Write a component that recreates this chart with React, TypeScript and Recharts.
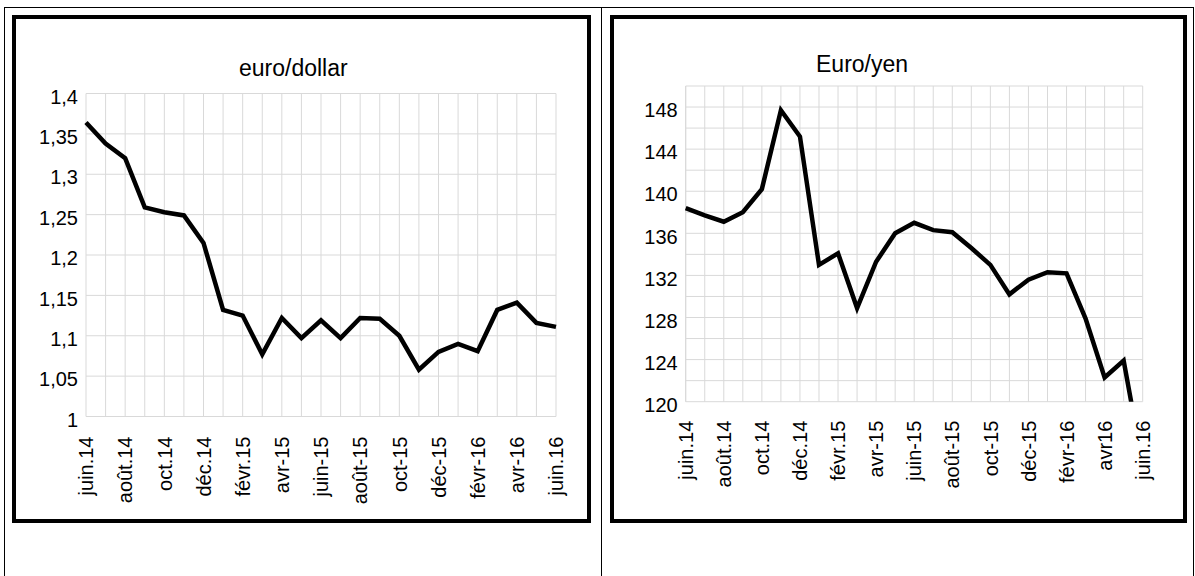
import React from 'react';
import { LineChart, Line, XAxis, YAxis, CartesianGrid } from 'recharts';

const dollarLabels = ['juin.14', 'août.14', 'oct.14', 'déc.14', 'févr.15', 'avr-15', 'juin-15', 'août-15', 'oct-15', 'déc-15', 'févr-16', 'avr-16', 'juin.16'];
const yenLabels = ['juin.14', 'août.14', 'oct.14', 'déc.14', 'févr.15', 'avr-15', 'juin-15', 'août-15', 'oct-15', 'déc-15', 'févr-16', 'avr16', 'juin.16'];

// monthly values, juin 2014 -> juin 2016
const dollarValues = [1.364, 1.338, 1.32, 1.259, 1.253, 1.249, 1.215, 1.132, 1.125, 1.077, 1.122, 1.097, 1.119, 1.097, 1.122, 1.121, 1.1, 1.058, 1.08, 1.09, 1.081, 1.132, 1.141, 1.116, 1.111];
const yenValues = [138.4, 137.7, 137.1, 138.0, 140.2, 147.7, 145.2, 133.0, 134.1, 128.9, 133.3, 136.0, 137.0, 136.3, 136.1, 134.6, 133.0, 130.2, 131.6, 132.3, 132.2, 127.9, 122.3, 123.9, 114.0];

const dollarTicks = [1, 1.05, 1.1, 1.15, 1.2, 1.25, 1.3, 1.35, 1.4];
const yenTicks = [120, 122, 124, 126, 128, 130, 132, 134, 136, 138, 140, 142, 144, 146, 148, 150];

const FONT = '"Liberation Sans", Arial, sans-serif';

const buildRows = (values: number[]) => values.map((v, i) => ({ idx: i, value: v }));

const MonthTick = ({ x, y, payload, labels, gap }: any) => {
  const i = Number(payload.value);
  if (i % 2 !== 0) return <g />;
  const ty = y + gap;
  return (
    <text
      x={x}
      y={ty}
      transform={`rotate(-90, ${x}, ${ty})`}
      textAnchor="end"
      dy="0.36em"
      fontSize={20}
      fontFamily={FONT}
      fill="#000"
    >
      {labels[i / 2]}
    </text>
  );
};

const ValueTick = ({ x, y, payload, format }: any) => {
  const text = format(payload.value);
  if (!text) return <g />;
  return (
    <text x={x} y={y + 3} textAnchor="end" dy="0.36em" fontSize={20} fontFamily={FONT} fill="#000">
      {text}
    </text>
  );
};

const fmtDollar = (v: number) => String(v).replace('.', ',');
const fmtYen = (v: number) => ((v - 120) % 4 === 0 && v < 150 ? String(v) : '');

const Box = ({ left, top, width, height }: any) => (
  <div
    style={{
      position: 'absolute',
      left,
      top,
      width,
      height,
      border: '4px solid #000',
      boxSizing: 'border-box',
    }}
  />
);

const Title = ({ left, top, children }: any) => (
  <div
    style={{
      position: 'absolute',
      left,
      top,
      fontFamily: FONT,
      fontSize: 23,
      lineHeight: '23px',
      whiteSpace: 'nowrap',
      color: '#000',
    }}
  >
    {children}
  </div>
);

const App: React.FC = () => {
  const dollarRows = buildRows(dollarValues);
  const yenRows = buildRows(yenValues);

  return (
    <div style={{ position: 'absolute', left: 0, top: 0, width: 1195, height: 576, background: '#fff', overflow: 'hidden' }}>
      {/* table lines */}
      <div style={{ position: 'absolute', left: 4, top: 7, width: 1190, height: 1, background: '#000' }} />
      <div style={{ position: 'absolute', left: 4, top: 7, width: 1, height: 569, background: '#000' }} />
      <div style={{ position: 'absolute', left: 601, top: 7, width: 1, height: 569, background: '#000' }} />
      <div style={{ position: 'absolute', left: 1193, top: 7, width: 1, height: 569, background: '#000' }} />

      <Box left={12} top={15} width={579} height={508} />
      <Box left={610} top={15} width={577} height={508} />

      <Title left={239} top={57}>euro/dollar</Title>
      <Title left={816} top={53}>Euro/yen</Title>

      <div style={{ position: 'absolute', left: 0, top: 0 }}>
        <LineChart width={600} height={576} data={dollarRows} margin={{ top: 93.5, right: 44, bottom: 59.5, left: 26 }}>
          <CartesianGrid stroke="#d9d9d9" strokeWidth={1} />
          <XAxis
            dataKey="idx"
            type="category"
            interval={0}
            height={100}
            axisLine={false}
            tickLine={false}
            tickSize={0}
            tickMargin={0}
            tick={<MonthTick labels={dollarLabels} gap={20} />}
          />
          <YAxis
            width={60}
            domain={[1, 1.4]}
            ticks={dollarTicks}
            interval={0}
            axisLine={false}
            tickLine={false}
            tick={<ValueTick format={fmtDollar} />}
          />
          <Line type="linear" dataKey="value" stroke="#000" strokeWidth={4.5} dot={false} activeDot={false} isAnimationActive={false} />
        </LineChart>
      </div>

      <div style={{ position: 'absolute', left: 600, top: 0 }}>
        <LineChart width={595} height={576} data={yenRows} margin={{ top: 86, right: 52.3, bottom: 74.3, left: 25.7 }}>
          <CartesianGrid stroke="#d9d9d9" strokeWidth={1} />
          <XAxis
            dataKey="idx"
            type="category"
            interval={0}
            height={100}
            axisLine={false}
            tickLine={false}
            tickSize={0}
            tickMargin={0}
            tick={<MonthTick labels={yenLabels} gap={19} />}
          />
          <YAxis
            width={60}
            domain={[120, 150]}
            allowDataOverflow
            ticks={yenTicks}
            interval={0}
            axisLine={false}
            tickLine={false}
            tick={<ValueTick format={fmtYen} />}
          />
          <Line type="linear" dataKey="value" stroke="#000" strokeWidth={4.5} dot={false} activeDot={false} isAnimationActive={false} />
        </LineChart>
      </div>
    </div>
  );
};

export default App;
